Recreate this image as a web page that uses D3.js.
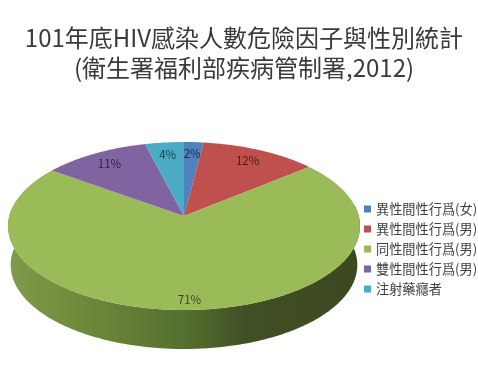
<!DOCTYPE html>
<html>
<head>
<meta charset="utf-8">
<script src="https://cdn.jsdelivr.net/npm/d3@7"></script>
<style>
  html, body { margin: 0; padding: 0; background: #fff; }
  svg { display: block; filter: blur(0.45px); } /* the reference is a soft jpeg */
  text { font-family: "Noto Sans CJK TC", "Noto Sans", sans-serif; }
</style>
</head>
<body>
<svg width="478" height="372"></svg>
<script>
var titleLines = ["101年底HIV感染人數危險因子與性別統計", "(衛生署福利部疾病管制署,2012)"];
var categories = ["異性間性行爲(女)", "異性間性行爲(男)", "同性間性行爲(男)", "雙性間性行爲(男)", "注射藥癮者"];
var values = [2, 12, 71, 11, 4];
var colors = ["#4f81bd", "#c0504d", "#9bbb59", "#8064a2", "#4bacc6"];

var svg = d3.select("svg");

var color = d3.scaleOrdinal().domain(categories).range(colors);

// the pie is seen in perspective, so the apex sits above the middle of the ellipse
var apexX = 184, apexY = 216;
var persp = 0.119, radiusX = 174.7, radiusY = 82.8, depth = 39;

function project(angle, r) {
  var u = Math.sin(angle) * r,
      v = Math.cos(angle) * r,
      w = 1 + persp * v;
  return [apexX + radiusX * u / w, apexY - radiusY * v / w];
}

function rim(a0, a1) {
  var n = Math.max(2, Math.ceil((a1 - a0) / 0.01));
  return d3.range(n + 1).map(function(i) {
    return project(a0 + (a1 - a0) * i / n, 1);
  });
}

var pie = d3.pie().sort(null).value(function(d, i) { return d; });
var arcs = pie(values);
var line = d3.line();

// side wall shading
var grad = svg.append("defs").append("linearGradient")
  .attr("id", "wall")
  .attr("gradientUnits", "userSpaceOnUse")
  .attr("x1", 8).attr("x2", 359).attr("y1", 0).attr("y2", 0);

[[0, "#7f9c49"], [0.25, "#6c8639"], [0.5, "#55702f"], [0.68, "#414f24"], [1, "#3c4920"]].forEach(function(s) {
  grad.append("stop").attr("offset", s[0]).attr("stop-color", s[1]);
});

// front of the pie: only the big green slice shows here
var front = rim(Math.PI / 2 - 0.12, 3 * Math.PI / 2 + 0.12);
var bottom = front.slice().reverse().map(function(p) {
  return [apexX + (p[0] - apexX) * 0.985, p[1] + depth];
});

svg.append("path")
  .attr("d", line(front.concat(bottom)) + "Z")
  .attr("fill", "url(#wall)");

svg.selectAll(".slice")
  .data(arcs)
  .enter()
  .append("path")
    .attr("class", "slice")
    .attr("d", function(d) {
      return line([[apexX, apexY]].concat(rim(d.startAngle, d.endAngle))) + "Z";
    })
    .attr("fill", function(d, i) { return color(categories[i]); });

svg.selectAll(".pct")
  .data(arcs)
  .enter()
  .append("text")
    .attr("class", "pct")
    .attr("x", function(d) { return project((d.startAngle + d.endAngle) / 2, d.value > 50 ? 0.9 : 0.82)[0]; })
    .attr("y", function(d) { return project((d.startAngle + d.endAngle) / 2, d.value > 50 ? 0.9 : 0.82)[1]; })
    .attr("dy", "0.36em")
    .attr("text-anchor", "middle")
    .attr("font-size", 11.5)
    .attr("fill", "#000")
    .attr("fill-opacity", 0.65)
    .text(function(d) { return d.value + "%"; });

svg.selectAll(".title")
  .data(titleLines)
  .enter()
  .append("text")
    .attr("class", "title")
    .attr("x", 244)
    .attr("y", function(d, i) { return 47 + i * 30; })
    .attr("text-anchor", "middle")
    .attr("font-size", 24)
    .attr("fill", "#3a3a3a")
    .text(function(d) { return d; });

var legendY = d3.scalePoint().domain(categories).range([209, 289]);

var legend = svg.selectAll(".legend")
  .data(categories)
  .enter()
  .append("g")
    .attr("class", "legend")
    .attr("transform", function(d) { return "translate(364," + legendY(d) + ")"; });

legend.append("rect")
  .attr("y", -3.5)
  .attr("width", 7)
  .attr("height", 7)
  .attr("fill", function(d) { return color(d); });

legend.append("text")
  .attr("x", 12)
  .attr("dy", "0.36em")
  .attr("font-size", 13.2)
  .attr("fill", "#404040")
  .text(function(d) { return d; });
</script>
</body>
</html>
